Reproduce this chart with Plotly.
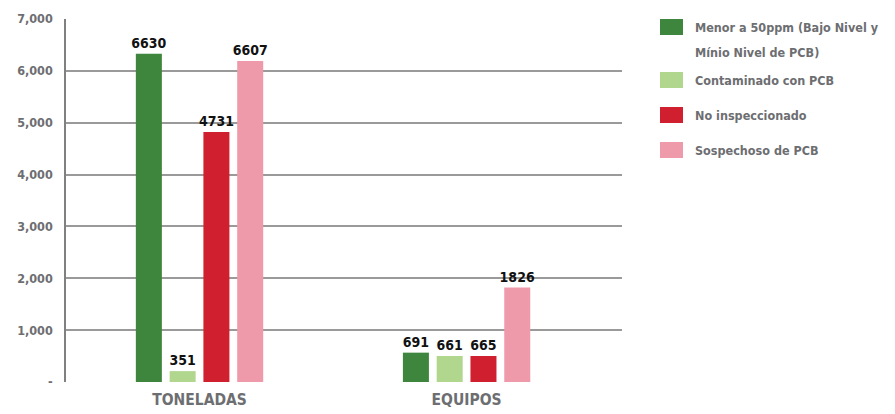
import plotly.graph_objects as go

categories = ["TONELADAS", "EQUIPOS"]
series_names = [
    "Menor a 50ppm (Bajo Nivel y Mínio Nivel de PCB)",
    "Contaminado con PCB",
    "No inspeccionado",
    "Sospechoso de PCB",
]
# bar heights as drawn in the picture
menor = [6330, 566]
contaminado = [210, 502]
no_insp = [4820, 502]
sospechoso = [6190, 1820]
# printed data labels
menor_lbl = ["6630", "691"]
contaminado_lbl = ["351", "661"]
no_insp_lbl = ["4731", "665"]
sospechoso_lbl = ["6607", "1826"]

colors = ["#3e863e", "#b1d68e", "#d0202f", "#ef9aab"]
y_tickvals = [0, 1000, 2000, 3000, 4000, 5000, 6000, 7000]
y_ticktext = ["-", "1,000", "2,000", "3,000", "4,000", "5,000", "6,000", "7,000"]

FONT = "DejaVu Sans Condensed, Liberation Sans Narrow, sans-serif"
GRAY = "#6d6e71"

values = [menor, contaminado, no_insp, sospechoso]
labels = [menor_lbl, contaminado_lbl, no_insp_lbl, sospechoso_lbl]

fig = go.Figure()
for name, vals, lbl, col in zip(series_names, values, labels, colors):
    fig.add_trace(go.Bar(
        x=categories, y=vals, name=name, marker=dict(color=col, line=dict(width=0)),
        text=lbl, textposition="outside", cliponaxis=False, constraintext="none",
        textfont=dict(family=FONT, size=14, color="#111111", weight=700),
        showlegend=False,
    ))

W, H = 895, 414
ml, mr, mt, mb = 66, 273, 19, 32
pw, ph = W - ml - mr, H - mt - mb

def px_x(x):
    return (x - ml) / pw

def px_y(y):
    return (H - mb - y) / ph

legend_rows = [
    (27, 19, 35, ["Menor a 50ppm (Bajo Nivel y", "Mínio Nivel de PCB)"]),
    (80, 72, 88, ["Contaminado con PCB"]),
    (115, 107, 123, ["No inspeccionado"]),
    (150, 142, 158, ["Sospechoso de PCB"]),
]
shapes = []
annotations = []
for (yc, y0, y1, lines), col in zip(legend_rows, colors):
    shapes.append(dict(type="rect", xref="paper", yref="paper",
                       x0=px_x(660), x1=px_x(683), y0=px_y(y1), y1=px_y(y0),
                       fillcolor=col, line=dict(width=0)))
    for i, t in enumerate(lines):
        annotations.append(dict(xref="paper", yref="paper", x=px_x(693), y=px_y(yc + 25 * i),
                                xanchor="left", yanchor="middle", showarrow=False, text=t,
                                font=dict(family=FONT, size=12.5, color=GRAY, weight=700)))

fig.update_layout(
    width=W, height=H,
    margin=dict(l=ml, r=mr, t=mt, b=mb, pad=0, autoexpand=False),
    paper_bgcolor="white", plot_bgcolor="white",
    barmode="group", bargap=0.494, bargroupgap=0.23,
    shapes=shapes, annotations=annotations,
    xaxis=dict(range=[-0.5, 1.582], showgrid=False, ticks="", showline=False, automargin=False,
               ticklabelstandoff=6,
               tickfont=dict(family=FONT, size=15.5, color=GRAY, weight=700)),
    yaxis=dict(range=[0, 7000], tickvals=y_tickvals, ticktext=y_ticktext, automargin=False,
               showgrid=True, gridcolor="#9a9a9a", gridwidth=1.5,
               zeroline=False, showline=True, linecolor="#808080", linewidth=1.5,
               ticks="", ticklabelstandoff=9,
               tickfont=dict(family=FONT, size=12.5, color=GRAY, weight=700)),
)

fig.write_html("out.html")
